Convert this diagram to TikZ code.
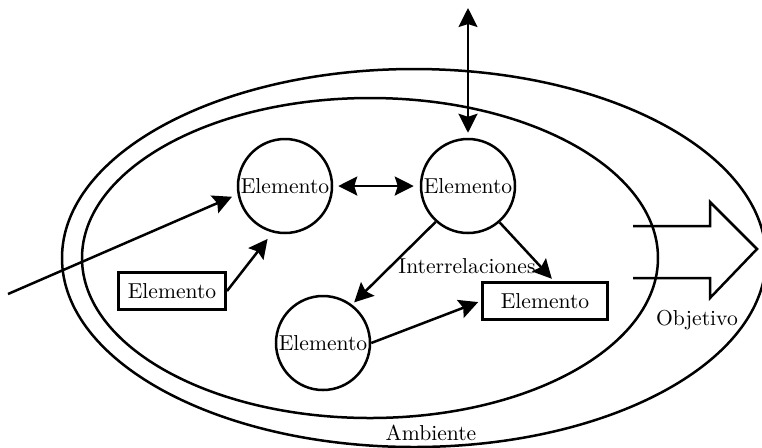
\documentclass[tikz,border=0pt]{standalone}
\usetikzlibrary{arrows.meta,calc}
\begin{document}
\begin{tikzpicture}[x=0.5pt,y=-0.5pt,
  line width=1.25pt,
  every node/.style={font=\fontsize{10.8}{13}\selectfont, inner sep=0pt},
  elem/.style={draw, circle, minimum size=47pt},
  box/.style={draw, rectangle, line width=1.5pt, minimum height=18.5pt},
  tip/.style={-{Stealth[length=9.5pt,width=9.5pt,inset=1.5pt]}},
  both/.style={{Stealth[length=9.5pt,width=9.5pt,inset=1.5pt]}-{Stealth[length=9.5pt,width=9.5pt,inset=1.5pt]}}
]
\useasboundingbox (0,0) rectangle (762,447);

% environment (outer) and system boundary (inner)
\draw (414,258) ellipse [x radius=352, y radius=189];
\draw (370,258) ellipse [x radius=288, y radius=160];

% elements
\node[elem] (c1) at (285,186) {Elemento};
\node[elem] (c2) at (468,186) {Elemento};
\node[elem] (c3) at (323,343) {Elemento};
\node[box, minimum width=53.5pt] (r1) at (172,291) {Elemento};
\node[box, minimum width=62.5pt] (r2) at (545,301) {Elemento};

% labels
\node (inter) at (467,266) {Interrelaciones};
\node (obj) at (697,320) {Objetivo};
\node (amb) at (431,433) {Ambiente};

% inputs / outputs
\coordinate (inp) at (8,294);
\coordinate (top) at (468,8);
\draw[tip, shorten >=3pt] (inp) -- (c1.190);
\draw[both, shorten >=2.5pt] (top) -- (c2.north);

% interrelations
\draw[tip, shorten >=4pt] (r1.east) -- (c1.255);
\draw[both, shorten <=2.5pt, shorten >=3pt] (c1.east) -- (c2.west);
\draw[tip, shorten >=1.5pt] (c2.228) -- (c3.53);
\draw[tip, shorten >=1.5pt] (c2.311) -- (r2.66);
\draw[tip, shorten >=1.5pt] (c3.east) -- (r2.west);

% objective arrow
\draw[line join=miter] (633,226) -- (710,226) -- (710,202) -- (757,249)
  -- (710,298) -- (710,278) -- (633,278);
\end{tikzpicture}
\end{document}
